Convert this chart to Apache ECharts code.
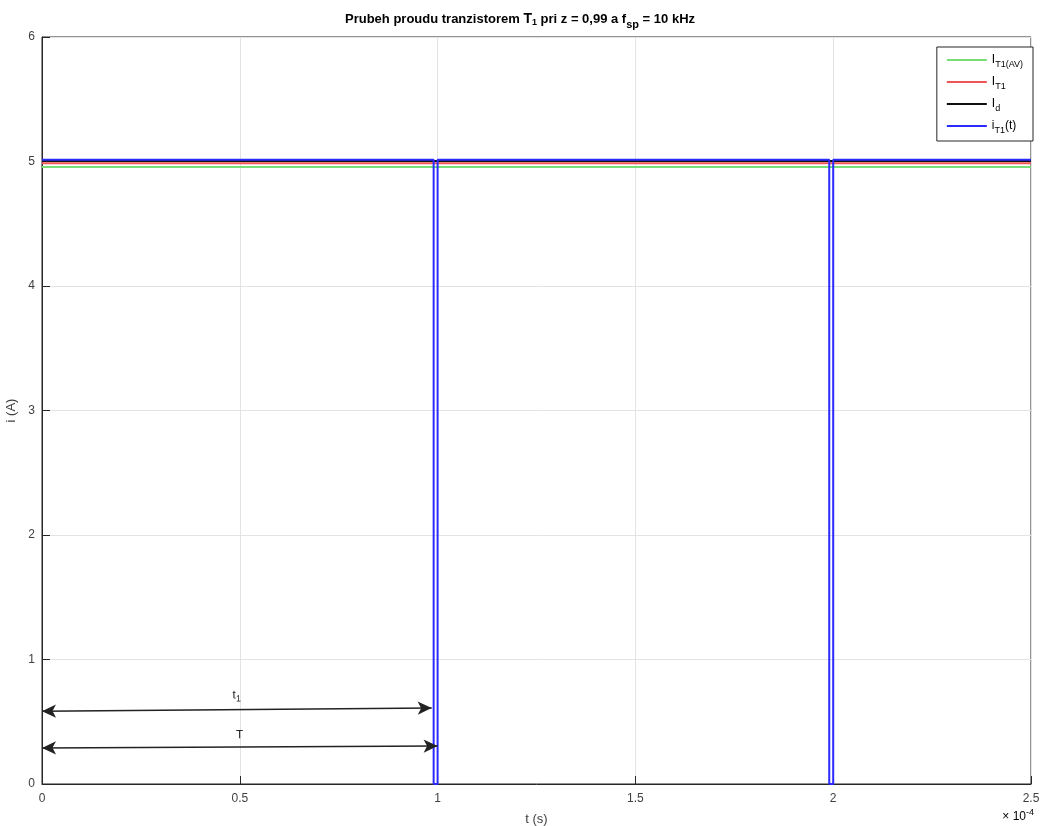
<!DOCTYPE html>
<html>
<head>
<meta charset="utf-8">
<script src="https://cdn.jsdelivr.net/npm/echarts@6/dist/echarts.min.js"></script>
<style>
  html, body { margin: 0; padding: 0; background: #fff; }
  #chart { width: 1040px; height: 826px; }
</style>
</head>
<body>
<div id="chart"></div>
<script>
// x values are in units of 1e-4 s
var xTicks = [0, 0.5, 1, 1.5, 2, 2.5];
var yTicks = [0, 1, 2, 3, 4, 5, 6];

var levelAV = 4.955;   // I_T1(AV)
var levelRMS = 4.985;  // I_T1
var levelD = 5.005;    // I_d
var levelOn = 5.015;   // i_T1(t) when on

var pulseT = [0, 0.99, 0.99, 1.0, 1.0, 1.99, 1.99, 2.0, 2.0, 2.5];
var pulseI = [levelOn, levelOn, 0, 0, levelOn, levelOn, 0, 0, levelOn, levelOn];

var arrowT1 = [[0, 0.585], [0.985, 0.61]];
var arrowT = [[0, 0.29], [1.0, 0.305]];

var chart = echarts.init(document.getElementById('chart'));

function flat(v) {
    return [[0, v], [2.5, v]];
}

var pulseData = [];
for (var i = 0; i < pulseT.length; i++) {
    pulseData.push([pulseT[i], pulseI[i]]);
}

var axisColor = '#262626';
var labelColor = '#404040';
var gridColor = '#e3e3e3';
var font = 'Liberation Sans, Arial, sans-serif';

var option = {
    animation: false,
    backgroundColor: '#fff',
    title: {
        text: '{b|Prubeh proudu tranzistorem }{n|T}{s|1}{b| pri z = 0,99 a f}{sb|sp}{b| = 10 kHz}',
        left: 'center',
        top: 4,
        textStyle: {
            rich: {
                b: { fontFamily: font, fontWeight: 'bold', fontSize: 13, color: '#000' },
                n: { fontFamily: font, fontSize: 14, color: '#000' },
                s: { fontFamily: font, fontSize: 9, color: '#000', padding: [6, 0, 0, 0] },
                sb: { fontFamily: font, fontWeight: 'bold', fontSize: 11, color: '#000', padding: [10, 0, 0, 0] }
            }
        }
    },
    legend: {
        right: 7,
        top: 47,
        orient: 'vertical',
        backgroundColor: '#fff',
        borderColor: axisColor,
        borderWidth: 1,
        padding: [7, 10, 6, 10],
        itemGap: 7,
        itemWidth: 40,
        itemHeight: 2,
        icon: 'rect',
        data: ['I_T1(AV)', 'I_T1', 'I_d', 'i_T1(t)'],
        formatter: function (name) {
            var p = name.split('_');
            return '{n|' + p[0] + '}{sub|' + p[1].replace('(t)', '') + '}' + (p[1].indexOf('(t)') >= 0 ? '{n|(t)}' : '');
        },
        textStyle: {
            rich: {
                n: { fontFamily: font, fontSize: 12, color: '#000' },
                sub: { fontFamily: font, fontSize: 9, color: '#000', padding: [9, 0, 0, 0] }
            }
        }
    },
    grid: {
        left: 42,
        right: 9,
        top: 37,
        bottom: 42,
        outerBoundsMode: 'none',
        containLabel: false,
        show: true,
        borderColor: axisColor,
        borderWidth: 1
    },
    xAxis: {
        type: 'value',
        min: 0,
        max: 2.5,
        interval: 0.5,
        name: 't (s)',
        nameLocation: 'middle',
        nameGap: 29,
        nameTextStyle: { fontFamily: font, fontSize: 13, color: labelColor },
        axisLine: { show: true, onZero: false, lineStyle: { color: axisColor } },
        axisTick: { show: true, inside: true, length: 8, lineStyle: { color: axisColor } },
        axisLabel: {
            fontFamily: font, fontSize: 12, color: labelColor, margin: 9,
            formatter: function (v) { return xTicks.indexOf(v) >= 0 ? String(v) : ''; }
        },
        splitLine: { show: true, lineStyle: { color: gridColor } }
    },
    yAxis: {
        type: 'value',
        min: 0,
        max: 6,
        interval: 1,
        name: 'i (A)',
        nameLocation: 'middle',
        nameGap: 22,
        nameTextStyle: { fontFamily: font, fontSize: 13, color: labelColor },
        axisLine: { show: true, onZero: false, lineStyle: { color: axisColor } },
        axisTick: { show: true, inside: true, length: 8, lineStyle: { color: axisColor } },
        axisLabel: {
            fontFamily: font, fontSize: 12, color: labelColor, margin: 7,
            formatter: function (v) { return yTicks.indexOf(v) >= 0 ? String(v) : ''; }
        },
        splitLine: { show: true, lineStyle: { color: gridColor } }
    },
    graphic: [{
        type: 'text',
        right: 6,
        bottom: 3,
        style: {
            text: '{a|\u00d7 10}{e|-4}',
            rich: {
                a: { fontFamily: font, fontSize: 12, color: labelColor },
                e: { fontFamily: font, fontSize: 9, color: labelColor, padding: [0, 0, 8, 0] }
            }
        }
    }],
    series: [
        {
            name: 'I_T1(AV)', type: 'line', data: flat(levelAV), symbol: 'none',
            lineStyle: { color: '#77dd77', width: 2 }, itemStyle: { color: '#77dd77' }
        },
        {
            name: 'I_T1', type: 'line', data: flat(levelRMS), symbol: 'none',
            lineStyle: { color: '#ee5555', width: 2 }, itemStyle: { color: '#ee5555' }
        },
        {
            name: 'I_d', type: 'line', data: flat(levelD), symbol: 'none',
            lineStyle: { color: '#111', width: 2 }, itemStyle: { color: '#111' }
        },
        {
            name: 'i_T1(t)', type: 'line', data: pulseData, symbol: 'none',
            lineStyle: { color: '#2b2bff', width: 2 }, itemStyle: { color: '#2b2bff' },
            markLine: {
                silent: true,
                symbol: ['arrow', 'arrow'],
                symbolSize: [10, 14],
                lineStyle: { color: '#222', width: 1.5, type: 'solid' },
                label: {
                    show: true,
                    position: 'middle',
                    distance: 6,
                    fontFamily: font,
                    fontSize: 12,
                    color: '#222'
                },
                data: [
                    [{ coord: arrowT1[0], label: { formatter: '{t|t}{s|1}', rich: { t: { fontFamily: font, fontSize: 12, color: '#222' }, s: { fontFamily: font, fontSize: 9, color: '#222', padding: [8, 0, 0, 0] } } } }, { coord: arrowT1[1] }],
                    [{ coord: arrowT[0], label: { formatter: 'T' } }, { coord: arrowT[1] }]
                ]
            }
        }
    ]
};

chart.setOption(option);
</script>
</body>
</html>
